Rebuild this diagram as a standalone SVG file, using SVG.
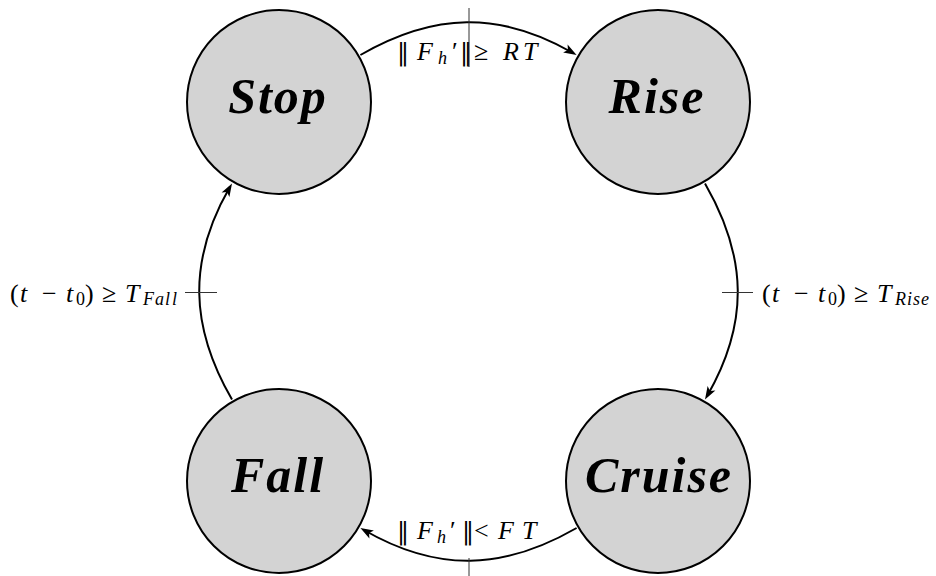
<svg xmlns="http://www.w3.org/2000/svg" width="936" height="576" viewBox="0 0 936 576">
<defs>
<marker id="arr" markerUnits="userSpaceOnUse" markerWidth="20" markerHeight="20" refX="0" refY="0" orient="auto" overflow="visible">
<path d="M4,0 L-9,-4.5 L-6,0 L-9,4.5 z" fill="#000"/>
</marker>
<style>
.node circle{fill:#d3d3d3;stroke:#000;stroke-width:2}
.node text{font-family:'Liberation Serif','Times New Roman','DejaVu Serif',serif;font-weight:bold;font-style:italic;font-size:50px;letter-spacing:2px;text-anchor:middle;fill:#000}
.edge{fill:none;stroke:#000;stroke-width:2;marker-end:url(#arr)}
.tick{stroke:#333;stroke-width:1}
.m{font-family:'Liberation Serif','Times New Roman','DejaVu Serif',serif;font-size:26px;fill:#000}
.i{font-style:italic}
.s{font-size:18px}
.n{font-family:'DejaVu Serif',serif;font-size:24px}
</style>
</defs>
<rect width="936" height="576" fill="#fff"/>
<g id="edges">
<path class="edge" d="M360.41,55 C433.71,12.68 499.83,10.68 573.13,53"/>
<path class="edge" d="M705,183.41 C747.32,256.71 749.32,322.83 707,396.13"/>
<path class="edge" d="M576.59,528 C503.29,570.32 437.17,572.32 363.87,530"/>
<path class="edge" d="M232,399.59 C189.68,326.29 187.68,260.17 230,186.87"/>
<line class="tick" x1="469" y1="8" x2="469" y2="67"/>
<line class="tick" x1="469" y1="558" x2="469" y2="576"/>
<line class="tick" x1="722" y1="292.5" x2="753" y2="292.5"/>
<line class="tick" x1="185" y1="292.5" x2="217" y2="292.5"/>
<text class="m" y="60"><tspan x="397" class="n">‖</tspan><tspan x="417" class="i">F</tspan><tspan x="438" y="64" class="i s">h</tspan><tspan x="452" y="60">′</tspan><tspan x="460" class="n">‖</tspan><tspan x="474">≥</tspan><tspan x="503" class="i">R</tspan><tspan x="523" class="i">T</tspan></text>
<text class="m" y="539"><tspan x="397" class="n">‖</tspan><tspan x="417" class="i">F</tspan><tspan x="437" y="543" class="i s">h</tspan><tspan x="450" y="539">′</tspan><tspan x="462" class="n">‖</tspan><tspan x="474">&lt;</tspan><tspan x="498" class="i">F</tspan><tspan x="522" class="i">T</tspan></text>
<text class="m" y="301.5"><tspan x="762">(</tspan><tspan x="772" class="i">t</tspan><tspan x="794">−</tspan><tspan x="818" class="i">t</tspan><tspan x="828" y="305" class="s">0</tspan><tspan x="837" y="301.5">)</tspan><tspan x="854">≥</tspan><tspan x="877" class="i">T</tspan><tspan x="895" y="305" class="i s">R</tspan><tspan x="907" class="i s">i</tspan><tspan x="913" class="i s">s</tspan><tspan x="921" class="i s">e</tspan></text>
<text class="m" y="301.5"><tspan x="10">(</tspan><tspan x="20" class="i">t</tspan><tspan x="42">−</tspan><tspan x="66" class="i">t</tspan><tspan x="76" y="305" class="s">0</tspan><tspan x="85" y="301.5">)</tspan><tspan x="102">≥</tspan><tspan x="125" class="i">T</tspan><tspan x="143" y="305" class="i s">F</tspan><tspan x="155" class="i s">a</tspan><tspan x="165" class="i s">l</tspan><tspan x="172" class="i s">l</tspan></text>
</g>
<g id="stop" class="node"><circle cx="279" cy="102" r="92"/><text x="278" y="113">Stop</text></g>
<g id="rise" class="node"><circle cx="658" cy="102" r="92"/><text x="657" y="113">Rise</text></g>
<g id="cruise" class="node"><circle cx="658" cy="481" r="92"/><text x="659" y="492">Cruise</text></g>
<g id="fall" class="node"><circle cx="279" cy="481" r="92"/><text x="278" y="492">Fall</text></g>
</svg>
